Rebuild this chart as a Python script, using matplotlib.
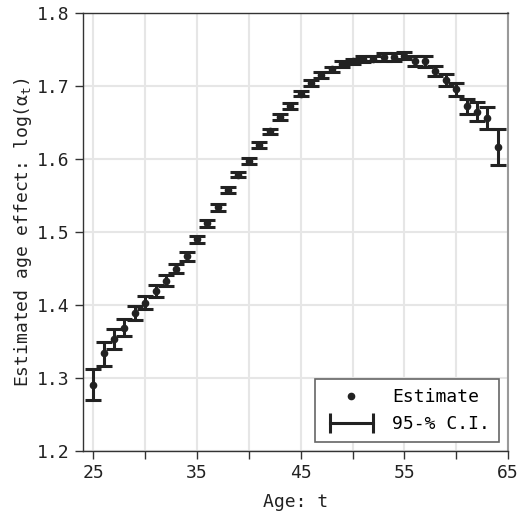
import matplotlib
matplotlib.use("Agg")
import matplotlib.pyplot as plt
from matplotlib.lines import Line2D
from matplotlib.legend_handler import HandlerLine2D
import numpy as np

ages = list(range(25, 65))
estimate = [1.291, 1.334, 1.354, 1.369, 1.389, 1.403, 1.419, 1.433, 1.450, 1.467,
            1.490, 1.512, 1.534, 1.558, 1.579, 1.598, 1.619, 1.638, 1.658, 1.673,
            1.690, 1.704, 1.715, 1.723, 1.730, 1.734, 1.737, 1.738, 1.740, 1.740,
            1.742, 1.735, 1.734, 1.721, 1.709, 1.696, 1.673, 1.665, 1.656, 1.617]
ci_lower = [1.270, 1.317, 1.340, 1.358, 1.380, 1.394, 1.411, 1.426, 1.444, 1.461,
            1.485, 1.507, 1.529, 1.554, 1.575, 1.594, 1.615, 1.634, 1.654, 1.669,
            1.686, 1.700, 1.711, 1.719, 1.726, 1.730, 1.733, 1.734, 1.735, 1.735,
            1.737, 1.728, 1.727, 1.714, 1.701, 1.687, 1.662, 1.652, 1.641, 1.592]
ci_upper = [1.312, 1.350, 1.367, 1.381, 1.399, 1.412, 1.427, 1.441, 1.456, 1.473,
            1.495, 1.517, 1.539, 1.562, 1.583, 1.602, 1.623, 1.642, 1.662, 1.677,
            1.694, 1.708, 1.719, 1.727, 1.734, 1.738, 1.741, 1.742, 1.745, 1.745,
            1.747, 1.742, 1.741, 1.728, 1.717, 1.705, 1.683, 1.678, 1.672, 1.642]
x_major = [25, 35, 45, 55, 65]
x_minor = [30, 40, 50, 60]
y_ticks = [1.2, 1.3, 1.4, 1.5, 1.6, 1.7, 1.8]

plt.rcParams['font.family'] = ['DejaVu Sans Mono']
plt.rcParams['font.size'] = 13

fig = plt.figure(figsize=(5.18, 5.13), dpi=100)
ax = fig.add_axes([83/518, 1 - 451/513, (508-83)/518, (451-13.3)/513])

est = np.array(estimate)
yerr = np.vstack([est - np.array(ci_lower), np.array(ci_upper) - est])
dark = '#222222'
ax.errorbar(ages, estimate, yerr=yerr, fmt='o', color=dark, ms=4.5,
            ecolor=dark, elinewidth=2.2, capsize=5.5, capthick=2.2, zorder=3)

ax.set_xlim(24, 65)
ax.set_ylim(1.2, 1.8)
ax.set_xticks(x_major)
ax.set_xticks(x_minor, minor=True)
ax.set_yticks(y_ticks)
ax.grid(True, which='both', color='#e6e6e6', lw=1.5, zorder=0)
ax.set_axisbelow(True)
ax.tick_params(which='both', direction='out', length=6, width=1, color='#333333',
               labelsize=13, labelcolor='#222222')

for s in ['left', 'bottom', 'top']:
    ax.spines[s].set_color('#333333')
    ax.spines[s].set_linewidth(1)
ax.spines['right'].set_color('#999999')
ax.spines['right'].set_linewidth(1.5)

ax.set_xlabel('Age: t', fontsize=13, color='#222222', labelpad=8)
ax.set_ylabel(r'Estimated age effect: log($\mathregular{\alpha_t}$)', fontsize=13,
              color='#222222', labelpad=2)

h_est = Line2D([], [], ls='none', marker='o', ms=4.5, color=dark)
h_ci = Line2D([], [], ls='-', lw=2.2, marker='|', ms=14, mew=2.2, color=dark)
leg = ax.legend([h_est, h_ci], ['Estimate', '95-% C.I.'], loc='lower right',
                handler_map={h_est: HandlerLine2D(numpoints=1),
                             h_ci: HandlerLine2D(numpoints=2)},
                fancybox=False, framealpha=1, edgecolor='#666666',
                handlelength=3.0, handletextpad=0.75, labelspacing=0.5,
                borderaxespad=0.5, fontsize=13, borderpad=0.5)
leg.get_frame().set_linewidth(1.2)

fig.savefig('out.png', dpi=100)
